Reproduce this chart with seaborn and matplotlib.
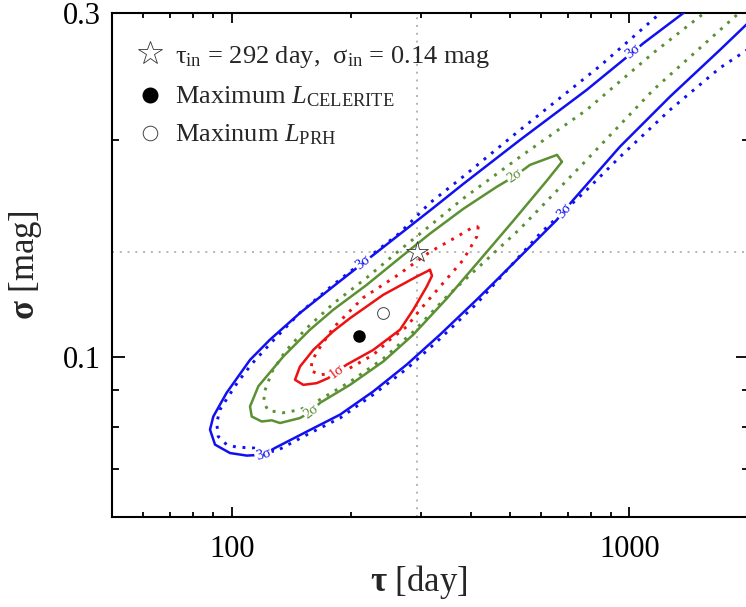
import numpy as np
import matplotlib
matplotlib.use("Agg")
import matplotlib.pyplot as plt
from matplotlib.ticker import NullFormatter
import seaborn as sns

# Input parameters of the simulated light curve
tau_in = 292
sigma_in = 0.14

# Maximum-likelihood estimates
cel_best_tau, cel_best_sig = 209, 0.107
prh_best_tau, prh_best_sig = 240, 0.115

# Confidence contours in (tau [day], sigma [mag]); CELERITE solid, PRH dotted
cel_3s_tau = [1454, 1084, 1022, 781.4, 531.0, 382.3, 321.4, 265.0, 214.3, 180.1,
              148.5, 124.8, 111.2, 97.1, 89.9, 88.2, 90.8, 99.0, 109.1, 120.1,
              128.5, 154.4, 187.3, 227.0, 275.5, 334.1, 413.2, 464.0, 656.8, 685.2,
              723.1, 947.5, 1266, 1691, 1966, 2258]
cel_3s_sig = [0.3077, 0.2723, 0.2649, 0.2347, 0.2000, 0.1738, 0.1610, 0.1481, 0.1351, 0.1253,
              0.1151, 0.1057, 0.0991, 0.0892, 0.0827, 0.0793, 0.0756, 0.0736, 0.0730, 0.0732,
              0.0748, 0.0788, 0.0832, 0.0896, 0.0976, 0.1074, 0.1201, 0.1279, 0.1549, 0.1595,
              0.1652, 0.1958, 0.2297, 0.2667, 0.2888, 0.3097]

prh_3s_tau = [1266, 1195, 843.9, 531.0, 381.6, 315.3, 265.0, 222.7, 179.8, 148.5,
              126.3, 112.5, 103.7, 98.0, 93.4, 91.7, 92.5, 97.1, 102.9, 113.3,
              128.5, 154.4, 187.3, 227.0, 275.5, 334.1, 413.2, 596.1, 781.4, 947.5,
              1266, 1691, 1943, 2687]
prh_3s_sig = [0.3097, 0.2997, 0.2533, 0.2065, 0.1778, 0.1636, 0.1487, 0.1380, 0.1259, 0.1152,
              0.1050, 0.0979, 0.0924, 0.0881, 0.0845, 0.0810, 0.0776, 0.0756, 0.0750, 0.0748,
              0.0739, 0.0780, 0.0823, 0.0887, 0.0963, 0.1060, 0.1186, 0.1483, 0.1705, 0.1895,
              0.2202, 0.2518, 0.2649, 0.2981]

cel_2s_tau = [676.9, 658.0, 562.6, 515.9, 464.0, 382.3, 315.3, 265.0, 218.5, 180.1,
              157.3, 134.9, 116.7, 111.2, 112.3, 119.0, 126.1, 132.3, 148.5, 158.9,
              166.8, 198.4, 240.6, 286.2, 347.3, 421.2, 510.8, 619.6, 676.9]
cel_2s_sig = [0.1865, 0.1907, 0.1847, 0.1783, 0.1722, 0.1605, 0.1483, 0.1373, 0.1259, 0.1163,
              0.1091, 0.1002, 0.0911, 0.0854, 0.0827, 0.0814, 0.0817, 0.0810, 0.0823, 0.0841,
              0.0864, 0.0915, 0.0986, 0.1074, 0.1205, 0.1364, 0.1545, 0.1755, 0.1865]

prh_2s_tau = [1662, 1521, 1149, 781.4, 531.0, 381.6, 315.3, 265.0, 218.5, 180.1,
              152.9, 136.2, 126.3, 120.6, 120.6, 123.4, 134.6, 148.5, 166.8, 198.4,
              240.6, 286.2, 347.3, 421.2, 531.0, 781.4, 1149, 1863, 2035]
prh_2s_sig = [0.3097, 0.2981, 0.2641, 0.2202, 0.1895, 0.1658, 0.1521, 0.1408, 0.1288, 0.1186,
              0.1091, 0.1017, 0.0954, 0.0892, 0.0865, 0.0843, 0.0837, 0.0845, 0.0873, 0.0924,
              0.0995, 0.1084, 0.1213, 0.1338, 0.1506, 0.1877, 0.2347, 0.2981, 0.3117]

cel_1s_tau = [315.3, 319.0, 309.3, 286.2, 265.0, 227.0, 194.7, 183.7, 175.0, 163.6,
              151.4, 144.3, 148.5, 160.4, 180.1, 198.4, 240.6, 292.0, 315.3]
cel_1s_sig = [0.1321, 0.1296, 0.1252, 0.1163, 0.1091, 0.1023, 0.0976, 0.0955, 0.0935, 0.0920,
              0.0915, 0.0930, 0.0970, 0.1023, 0.1086, 0.1132, 0.1220, 0.1293, 0.1321]

prh_1s_tau = [417.1, 413.2, 382.3, 334.1, 297.6, 275.5, 250.1, 227.0, 194.7, 176.7,
              166.8, 158.3, 159.2, 165.1, 180.1, 214.3, 260.0, 315.3, 368.1, 402.2, 417.1]
prh_1s_sig = [0.1517, 0.1468, 0.1364, 0.1252, 0.1163, 0.1102, 0.1057, 0.1007, 0.0960, 0.0948,
              0.0945, 0.0957, 0.0988, 0.1023, 0.1098, 0.1209, 0.1296, 0.1399, 0.1468, 0.1511, 0.1517]

# Vertex indices along the solid contours where the level labels sit
label_idx_3s = [2, 8, 19, 29]
label_idx_2s = [3, 19]
label_idx_1s = [7]

# Legend entries
legend_labels = [
    f"τ$_{{\\rm in}}$ = {tau_in} day,  σ$_{{\\rm in}}$ = {sigma_in} mag",
    r"Maximum $L_{\rm CELERITE}$",
    r"Maxinum $L_{\rm PRH}$",
]

# Axis ticks
x_major = [100, 1000]
x_major_labels = ["100", "1000"]
x_minor = [60, 70, 80, 90, 200, 300, 400, 500, 600, 700, 800, 900, 2000]
y_major = [0.1, 0.3]
y_major_labels = ["0.1", "0.3"]
y_minor = [0.07, 0.08, 0.09, 0.2]

BLUE = "#1010f0"
GREEN = "#5b9033"
RED = "#ee1111"

sns.set_theme(style="ticks")
plt.rcParams["font.family"] = ["Liberation Serif", "DejaVu Serif"]
plt.rcParams["mathtext.fontset"] = "custom"
plt.rcParams["mathtext.rm"] = "Liberation Serif"
plt.rcParams["mathtext.it"] = "Liberation Serif:italic"
plt.rcParams["mathtext.bf"] = "Liberation Serif:bold"

fig = plt.figure(figsize=(7.46, 6.07), dpi=100)
ax = fig.add_axes([112 / 746, 90 / 607, 637 / 746, 504 / 607])
ax.set_xscale("log")
ax.set_yscale("log")
ax.set_xlim(50, 2000)
ax.set_ylim(0.06, 0.3)

# Reference lines through the input values
grid_kw = dict(color="#b4b4b4", lw=1.4, ls=(0, (1, 3)), zorder=1)
ax.axvline(tau_in, **grid_kw)
ax.axhline(sigma_in, **grid_kw)

SOLID = "-"
DOTTED = (0, (1, 2.3))
contours = [
    (prh_3s_tau, prh_3s_sig, BLUE, DOTTED, 2.1),
    (prh_2s_tau, prh_2s_sig, GREEN, DOTTED, 2.1),
    (prh_1s_tau, prh_1s_sig, RED, DOTTED, 2.1),
    (cel_3s_tau, cel_3s_sig, BLUE, SOLID, 1.8),
    (cel_2s_tau, cel_2s_sig, GREEN, SOLID, 1.8),
    (cel_1s_tau, cel_1s_sig, RED, SOLID, 1.8),
]
for tau, sig, col, ls, lw in contours:
    sns.lineplot(x=tau, y=sig, sort=False, estimator=None, color=col,
                 linestyle=ls, lw=lw, ax=ax, legend=False, zorder=3,
                 solid_joinstyle="round")


def level_labels(tau, sig, idx, text, color):
    for i in idx:
        p0 = ax.transData.transform((tau[i - 1], sig[i - 1]))
        p1 = ax.transData.transform((tau[i + 1], sig[i + 1]))
        ang = np.degrees(np.arctan2(p1[1] - p0[1], p1[0] - p0[0]))
        if ang > 90:
            ang -= 180
        if ang < -90:
            ang += 180
        ax.text(tau[i], sig[i], text, color=color, fontsize=10.5, rotation=ang,
                rotation_mode="anchor", ha="center", va="center", zorder=5,
                bbox=dict(boxstyle="square,pad=0.08", fc="white", ec="none"))


level_labels(cel_3s_tau, cel_3s_sig, label_idx_3s, "3σ", BLUE)
level_labels(cel_2s_tau, cel_2s_sig, label_idx_2s, "2σ", GREEN)
level_labels(cel_1s_tau, cel_1s_sig, label_idx_1s, "1σ", RED)

# Input value and best-fit points
star_kw = dict(marker="*", mfc="white", mec="#333333", mew=0.6, ls="none")
full_kw = dict(marker="o", mfc="black", mec="black", ls="none")
open_kw = dict(marker="o", mfc="white", mec="#444444", mew=0.7, ls="none")
ax.plot([tau_in], [sigma_in], ms=16, zorder=6, **star_kw)
ax.plot([cel_best_tau], [cel_best_sig], ms=8, zorder=6, **full_kw)
ax.plot([prh_best_tau], [prh_best_sig], ms=8.5, zorder=6, **open_kw)

# Key in the upper-left corner
key_styles = [(star_kw, 17.5), (full_kw, 10.5), (open_kw, 10.5)]
key_marker_y = [0.9206, 0.8373, 0.7619]
key_text_y = [0.9014, 0.8214, 0.7446]
for (kw, ms), ym, yt, lab in zip(key_styles, key_marker_y, key_text_y, legend_labels):
    ax.plot([0.0597], [ym], transform=ax.transAxes, ms=ms, zorder=7,
            clip_on=False, **kw)
    ax.text(0.0989, yt, lab, transform=ax.transAxes, fontsize=19,
            ha="left", va="baseline", zorder=7)

# Ticks and frame
ax.set_xticks(x_major, labels=x_major_labels)
ax.set_xticks(x_minor, minor=True)
ax.set_yticks(y_major, labels=y_major_labels)
ax.set_yticks(y_minor, minor=True)
ax.xaxis.set_minor_formatter(NullFormatter())
ax.yaxis.set_minor_formatter(NullFormatter())
ax.tick_params(which="both", direction="in", top=True, right=True,
               colors="black", width=1.3, labelsize=22)
ax.tick_params(axis="x", which="major", length=7.5, pad=13)
ax.tick_params(axis="x", which="minor", length=3.8)
ax.tick_params(axis="y", which="major", length=9.5, pad=8)
ax.tick_params(axis="y", which="minor", length=5)
for sp in ax.spines.values():
    sp.set_linewidth(1.5)
    sp.set_color("black")

ax.set_xlabel(r"$\mathbf{\tau}$ [day]", fontsize=25)
ax.set_ylabel(r"$\mathbf{\sigma}$ [mag]", fontsize=25)
ax.xaxis.set_label_coords(0.482, -0.092)
ax.yaxis.set_label_coords(-0.106, 0.5)

fig.savefig("out.png", dpi=100)
